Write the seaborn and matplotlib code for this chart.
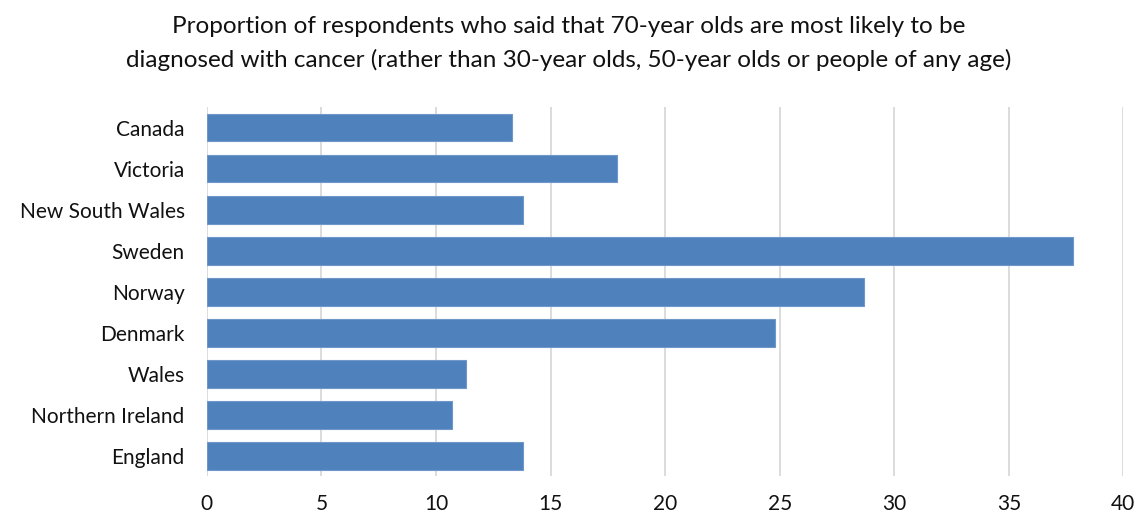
import matplotlib
matplotlib.use("Agg")
import matplotlib.pyplot as plt
import seaborn as sns
import pandas as pd

regions = ["Canada", "Victoria", "New South Wales", "Sweden", "Norway",
           "Denmark", "Wales", "Northern Ireland", "England"]
shares = [13.3, 17.9, 13.8, 37.8, 28.7, 24.8, 11.3, 10.7, 13.8]
x_ticks = [0, 5, 10, 15, 20, 25, 30, 35, 40]

sns.set_theme(style="white")
plt.rcParams["font.family"] = ["Lato", "DejaVu Sans"]

df = pd.DataFrame({"region": regions, "share": shares})

fig = plt.figure(figsize=(11.37, 5.17), dpi=100)
ax = fig.add_axes([0.182, 0.079, 0.806, 0.714])

sns.barplot(data=df, x="share", y="region", order=regions, color="#4F81BD",
            saturation=1, width=0.68, edgecolor="#6F97C9", linewidth=0.8, ax=ax)

ax.set_xlim(0, 40)
ax.set_ylim(len(regions) - 0.5, -0.5)
ax.set_xticks(x_ticks)
ax.set_xticklabels([str(t) for t in x_ticks], fontsize=15, color="#111111")
ax.tick_params(axis="y", labelsize=15, labelcolor="#111111", length=0, pad=16)
ax.tick_params(axis="x", length=0, pad=13)
ax.xaxis.grid(True, color="#D9D9D9", linewidth=1.3)
ax.set_axisbelow(True)
for s in ax.spines.values():
    s.set_visible(False)
ax.set_xlabel("")
ax.set_ylabel("")

fig.text(0.5, 0.97, "Proportion of respondents who said that 70-year olds are most likely to be\n"
         "diagnosed with cancer (rather than 30-year olds, 50-year olds or people of any age)",
         ha="center", va="top", fontsize=17.5, color="#111111", linespacing=1.7)

fig.savefig("out.png", dpi=100, facecolor="white")
